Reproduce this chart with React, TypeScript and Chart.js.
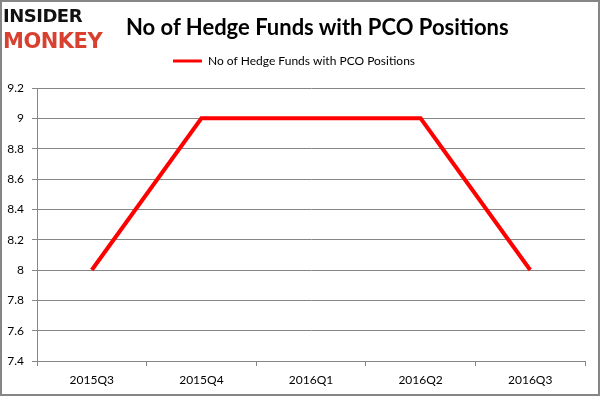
import React, { useEffect, useRef } from "react";
import { Chart, registerables } from "chart.js";

Chart.register(...registerables);

const categories = ["2015Q3", "2015Q4", "2016Q1", "2016Q2", "2016Q3"];
const hedgeFundCounts = [8, 9, 9, 9, 8];
const seriesLabel = "No of Hedge Funds with PCO Positions";
const chartTitle = "No of Hedge Funds with PCO Positions";
const yMin = 7.4;
const yMax = 9.2;
const yStep = 0.2;

const GRAY = "#868686";

export default function App() {
  const canvasRef = useRef<HTMLCanvasElement | null>(null);

  useEffect(() => {
    document.body.style.margin = "0";
    const canvas = canvasRef.current;
    if (!canvas) return;
    const chart = new Chart(canvas, {
      type: "line",
      data: {
        labels: categories,
        datasets: [
          {
            label: seriesLabel,
            data: hedgeFundCounts,
            borderColor: "#ff0000",
            backgroundColor: "#ff0000",
            borderWidth: 4,
            pointRadius: 0,
            tension: 0,
            fill: false,
          },
        ],
      },
      options: {
        responsive: false,
        animation: false,
        events: [],
        font: { family: "Lato" },
        layout: { padding: { top: 34, right: 15, bottom: 0, left: 3 } },
        plugins: {
          title: { display: false },
          subtitle: {
            display: true,
            text: "",
            weight: 500,
            position: "top",
            padding: 0,
            font: { size: 11, lineHeight: 1 },
          },
          tooltip: { enabled: false },
          legend: {
            position: "top",
            labels: {
              usePointStyle: true,
              pointStyle: "line",
              pointStyleWidth: 29,
              padding: 21,
              color: "#000",
              font: { family: "Lato", size: 12 },
              generateLabels: (c: any) =>
                Chart.defaults.plugins.legend.labels
                  .generateLabels(c)
                  .map((l: any) => ({ ...l, lineWidth: 3, pointStyle: "line" })),
            },
          },
        },
        scales: {
          x: {
            offset: true,
            grid: {
              offset: true,
              drawOnChartArea: false,
              drawTicks: true,
              tickLength: 5,
              color: GRAY,
            },
            border: { color: GRAY },
            ticks: { padding: 7, color: "#000", font: { family: "Lato", size: 12 } },
            afterFit: (s: any) => {
              s.height = 35;
            },
          },
          y: {
            min: yMin,
            max: yMax,
            grid: { color: GRAY, tickLength: 5 },
            border: { color: GRAY },
            ticks: {
              stepSize: yStep,
              padding: 8,
              color: "#000",
              font: { family: "Lato", size: 12 },
              callback: (v: any) => String(Number(Number(v).toFixed(1))),
            },
            afterFit: (s: any) => {
              s.width = 34;
            },
          },
        },
      },
    });
    return () => chart.destroy();
  }, []);

  return (
    <div style={{ position: "relative", width: 600, height: 396, background: "#fff", overflow: "hidden" }}>
      <canvas ref={canvasRef} width={600} height={396} style={{ display: "block" }} />
      <div
        style={{
          position: "absolute",
          left: 3,
          top: 7,
          fontFamily: "DejaVu Sans",
          fontWeight: 900,
          lineHeight: 1,
        }}
      >
        <div style={{ fontSize: 18, color: "#111", letterSpacing: -0.5 }}>INSIDER</div>
        <div style={{ fontSize: 21, color: "#d8412f", marginTop: 6, letterSpacing: -0.5 }}>MONKEY</div>
      </div>
      <div
        style={{
          position: "absolute",
          left: 126,
          top: 13,
          fontFamily: "Lato",
          fontWeight: 700,
          fontSize: 22,
          lineHeight: "28px",
          color: "#000",
          whiteSpace: "nowrap",
        }}
      >
        {chartTitle}
      </div>
      <div
        style={{
          position: "absolute",
          inset: 0,
          border: `2px solid ${GRAY}`,
          pointerEvents: "none",
        }}
      />
    </div>
  );
}
